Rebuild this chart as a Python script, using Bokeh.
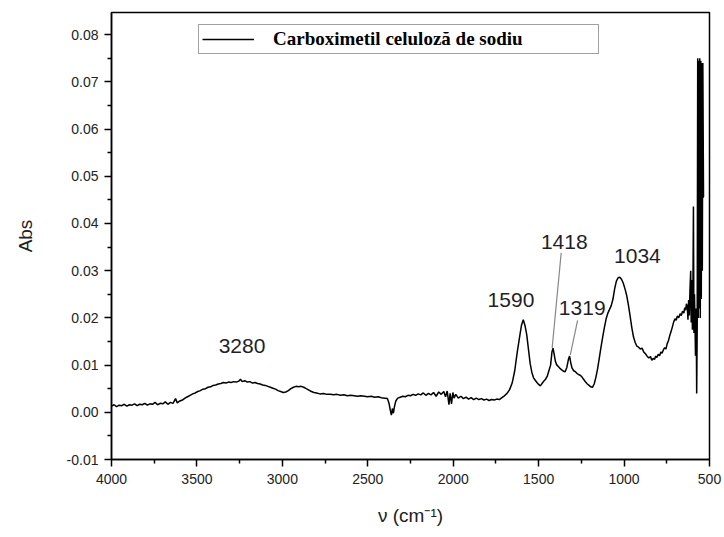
from bokeh.plotting import figure
from bokeh.models import (Range1d, Legend, LegendItem, FixedTicker,
                          NumeralTickFormatter)
from bokeh.embed import file_html
from bokeh.resources import INLINE
from bokeh.core.properties import value

# ---------------- data ----------------
wavenumber = [
    4000, 3985, 3970, 3955, 3940, 3925, 3910, 3895, 3880, 3865, 3850, 3835, 3820, 3805,
    3790, 3775, 3760, 3745, 3730, 3715, 3700, 3685, 3670, 3655, 3640, 3625, 3615, 3600,
    3585, 3570, 3555, 3540, 3525, 3510, 3495, 3480, 3465, 3450, 3435, 3420, 3405, 3390,
    3375, 3360, 3345, 3330, 3315, 3300, 3285, 3270, 3255, 3245, 3235, 3220, 3205, 3190,
    3175, 3160, 3145, 3130, 3115, 3100, 3085, 3070, 3055, 3040, 3025, 3010, 2995, 2980,
    2965, 2950, 2935, 2920, 2905, 2890, 2875, 2860, 2845, 2830, 2815, 2800, 2780, 2760,
    2740, 2720, 2700, 2680, 2660, 2640, 2620, 2600, 2580, 2560, 2540, 2520, 2500, 2480,
    2460, 2440, 2420, 2400, 2385, 2375, 2368, 2362, 2356, 2350, 2344, 2336, 2325, 2310,
    2295, 2280, 2265, 2250, 2235, 2220, 2205, 2190, 2175, 2160, 2145, 2130, 2115, 2100,
    2085, 2070, 2055, 2045, 2035, 2025, 2018, 2010, 2002, 1995, 1985, 1970, 1955, 1940,
    1925, 1910, 1895, 1880, 1865, 1850, 1835, 1820, 1805, 1790, 1775, 1760, 1745, 1730,
    1715, 1700, 1685, 1670, 1655, 1640, 1625, 1610, 1600, 1590, 1580, 1570, 1560, 1550,
    1540, 1530, 1520, 1510, 1500, 1490, 1480, 1470, 1460, 1450, 1440, 1430, 1422, 1416,
    1410, 1402, 1395, 1385, 1375, 1365, 1355, 1345, 1335, 1325, 1319, 1312, 1305, 1295,
    1285, 1275, 1265, 1255, 1245, 1235, 1225, 1215, 1205, 1195, 1185, 1175, 1165, 1155,
    1145, 1135, 1125, 1115, 1105, 1095, 1085, 1075, 1065, 1055, 1045, 1035, 1025, 1015,
    1005, 995, 985, 975, 965, 955, 945, 935, 925, 915, 905, 895, 885, 875,
    865, 855, 845, 838, 830, 822, 815, 808, 800, 792, 785, 778, 770, 762,
    755, 748, 740, 733, 725, 718, 710, 702, 695, 688, 680, 672, 665, 658,
    650, 645, 640, 635, 630, 626, 622, 618, 614, 610, 607, 604, 600, 597,
    594, 591, 588, 585, 582, 578, 575, 572, 569, 566, 563, 560, 557, 554,
    551, 548, 545, 542, 539, 535, 532,
]
absorbance = [
    0.0013, 0.0016, 0.0012, 0.0015, 0.0014, 0.0017, 0.0013, 0.0016, 0.0015, 0.0018, 0.0014, 0.0017, 0.0016, 0.0019,
    0.0015, 0.0018, 0.0017, 0.0021, 0.0016, 0.0019, 0.0018, 0.0022, 0.0017, 0.0021, 0.0019, 0.0029, 0.0020, 0.0024,
    0.0026, 0.0030, 0.0033, 0.0036, 0.0039, 0.0041, 0.0044, 0.0046, 0.0049, 0.0050, 0.0053, 0.0054, 0.0057, 0.0058,
    0.0060, 0.0061, 0.0063, 0.0062, 0.0064, 0.0063, 0.0065, 0.0064, 0.0066, 0.0070, 0.0065, 0.0067, 0.0064, 0.0065,
    0.0062, 0.0063, 0.0061, 0.0060, 0.0058, 0.0057, 0.0055, 0.0053, 0.0051, 0.0049, 0.0046, 0.0044, 0.0042, 0.0043,
    0.0046, 0.0050, 0.0053, 0.0055, 0.0054, 0.0055, 0.0053, 0.0050, 0.0047, 0.0044, 0.0042, 0.0041, 0.0039, 0.0040,
    0.0038, 0.0038, 0.0037, 0.0038, 0.0036, 0.0037, 0.0035, 0.0036, 0.0035, 0.0034, 0.0035, 0.0034, 0.0033, 0.0034,
    0.0032, 0.0033, 0.0031, 0.0030, 0.0029, 0.0018, 0.0004, -0.0006, 0.0008, -0.0002, 0.0012, 0.0024, 0.0030, 0.0032,
    0.0034, 0.0033, 0.0036, 0.0035, 0.0038, 0.0036, 0.0039, 0.0037, 0.0041, 0.0036, 0.0040, 0.0037, 0.0042, 0.0034,
    0.0043, 0.0038, 0.0044, 0.0033, 0.0045, 0.0016, 0.0040, 0.0018, 0.0042, 0.0030, 0.0038, 0.0030, 0.0034, 0.0029,
    0.0032, 0.0028, 0.0031, 0.0027, 0.0030, 0.0027, 0.0029, 0.0026, 0.0028, 0.0025, 0.0027, 0.0026, 0.0028, 0.0027,
    0.0031, 0.0035, 0.0040, 0.0048, 0.0062, 0.0088, 0.0128, 0.0163, 0.0185, 0.0196, 0.0184, 0.0165, 0.0135, 0.0104,
    0.0085, 0.0073, 0.0068, 0.0063, 0.0059, 0.0056, 0.0061, 0.0066, 0.0070, 0.0076, 0.0088, 0.0100, 0.0128, 0.0136,
    0.0125, 0.0108, 0.0101, 0.0097, 0.0093, 0.0090, 0.0087, 0.0086, 0.0095, 0.0113, 0.0119, 0.0105, 0.0094, 0.0088,
    0.0086, 0.0082, 0.0080, 0.0078, 0.0074, 0.0069, 0.0064, 0.0060, 0.0057, 0.0054, 0.0053, 0.0060, 0.0074, 0.0092,
    0.0115, 0.0138, 0.0160, 0.0180, 0.0198, 0.0210, 0.0218, 0.0226, 0.0240, 0.0262, 0.0278, 0.0285, 0.0286, 0.0282,
    0.0274, 0.0262, 0.0248, 0.0228, 0.0205, 0.0180, 0.0160, 0.0148, 0.0140, 0.0138, 0.0134, 0.0136, 0.0128, 0.0124,
    0.0119, 0.0115, 0.0118, 0.0110, 0.0114, 0.0112, 0.0119, 0.0116, 0.0123, 0.0120, 0.0128, 0.0125, 0.0132, 0.0137,
    0.0134, 0.0145, 0.0152, 0.0162, 0.0171, 0.0180, 0.0191, 0.0198, 0.0195, 0.0204, 0.0200, 0.0209, 0.0205, 0.0214,
    0.0210, 0.0222, 0.0216, 0.0230, 0.0224, 0.0196, 0.0238, 0.0205, 0.0262, 0.0300, 0.0190, 0.0280, 0.0175, 0.0260,
    0.0436, 0.0168, 0.0250, 0.0190, 0.0120, 0.0220, 0.0040, 0.0180, 0.0750, 0.0200, 0.0745, 0.0220, 0.0750, 0.0200,
    0.0745, 0.0240, 0.0740, 0.0300, 0.0740, 0.0456, 0.0456,
]

peak_labels = ["3280", "1590", "1418", "1319", "1034"]
peak_label_x = [3236, 1662, 1350, 1245, 922]
peak_label_y = [0.0140, 0.0238, 0.0360, 0.0222, 0.0332]

# leader lines from label to peak (1418 and 1319)
leader_x0 = [1368, 1272]
leader_y0 = [0.0338, 0.0195]
leader_x1 = [1421, 1315]
leader_y1 = [0.0136, 0.0121]

x_major = [4000, 3500, 3000, 2500, 2000, 1500, 1000, 500]
x_minor = [3750, 3250, 2750, 2250, 1750, 1250, 750]
y_major = [-0.01, 0.0, 0.01, 0.02, 0.03, 0.04, 0.05, 0.06, 0.07, 0.08]
y_minor = [-0.005, 0.005, 0.015, 0.025, 0.035, 0.045, 0.055, 0.065, 0.075]

series_name = "Carboximetil celuloză de sodiu"

# ---------------- figure ----------------
p = figure(width=724, height=537, output_backend="svg", toolbar_location=None,
           x_range=Range1d(4000, 500), y_range=Range1d(-0.01, 0.0847),
           min_border_left=111, min_border_right=15, min_border_top=12,
           min_border_bottom=78, x_axis_label="ν (cm⁻¹)", y_axis_label="Abs")
p.background_fill_color = "white"
p.border_fill_color = "white"
p.xgrid.visible = False
p.ygrid.visible = False
p.outline_line_color = "black"
p.outline_line_width = 1.5
p.outline_line_alpha = 1.0

xt = FixedTicker(ticks=x_major, minor_ticks=x_minor)
yt = FixedTicker(ticks=y_major, minor_ticks=y_minor)
p.xaxis.ticker = xt
p.yaxis.ticker = yt
p.yaxis.formatter = NumeralTickFormatter(format="0.00")

for ax in (p.xaxis[0], p.yaxis[0]):
    ax.axis_line_width = 1.5
    ax.axis_line_color = "black"
    ax.major_tick_line_width = 1.5
    ax.major_tick_line_color = "black"
    ax.minor_tick_line_width = 1.5
    ax.minor_tick_line_color = "black"
    ax.major_tick_out = 7
    ax.major_tick_in = 0
    ax.minor_tick_out = 4
    ax.minor_tick_in = 0
    ax.major_label_text_font = "Liberation Sans"
    ax.major_label_text_font_size = "14px"
    ax.major_label_text_color = "#222222"
    ax.axis_label_text_font = "Liberation Sans"
    ax.axis_label_text_font_size = "19px"
    ax.axis_label_text_font_style = "normal"
    ax.axis_label_text_color = "#222222"

p.xaxis.major_label_standoff = 7
p.xaxis.axis_label_standoff = 18
p.yaxis.major_label_standoff = 6
p.yaxis.axis_label_standoff = 28

# ---------------- glyphs ----------------
line_r = p.line(wavenumber, absorbance, line_color="black", line_width=1.5)

p.segment(x0=leader_x0, y0=leader_y0, x1=leader_x1, y1=leader_y1,
          line_color="#888888", line_width=1.2)
p.text(x=peak_label_x, y=peak_label_y, text=peak_labels,
       text_font=value("Liberation Sans"), text_font_size="21px",
       text_align="center", text_baseline="middle", text_color="#1f1f2a")

legend = Legend(items=[LegendItem(label=series_name, renderers=[line_r])],
                location=(87, 405), orientation="vertical",
                padding=3, margin=0, spacing=0,
                glyph_width=52, glyph_height=20, label_standoff=19,
                label_width=322, label_height=20,
                label_text_font="Liberation Serif", label_text_font_style="bold",
                label_text_font_size="19px", label_text_color="black",
                border_line_color="#444444", border_line_width=1,
                background_fill_color="white", background_fill_alpha=1.0)
p.add_layout(legend)

open("out.html", "w").write(file_html(p, INLINE))
